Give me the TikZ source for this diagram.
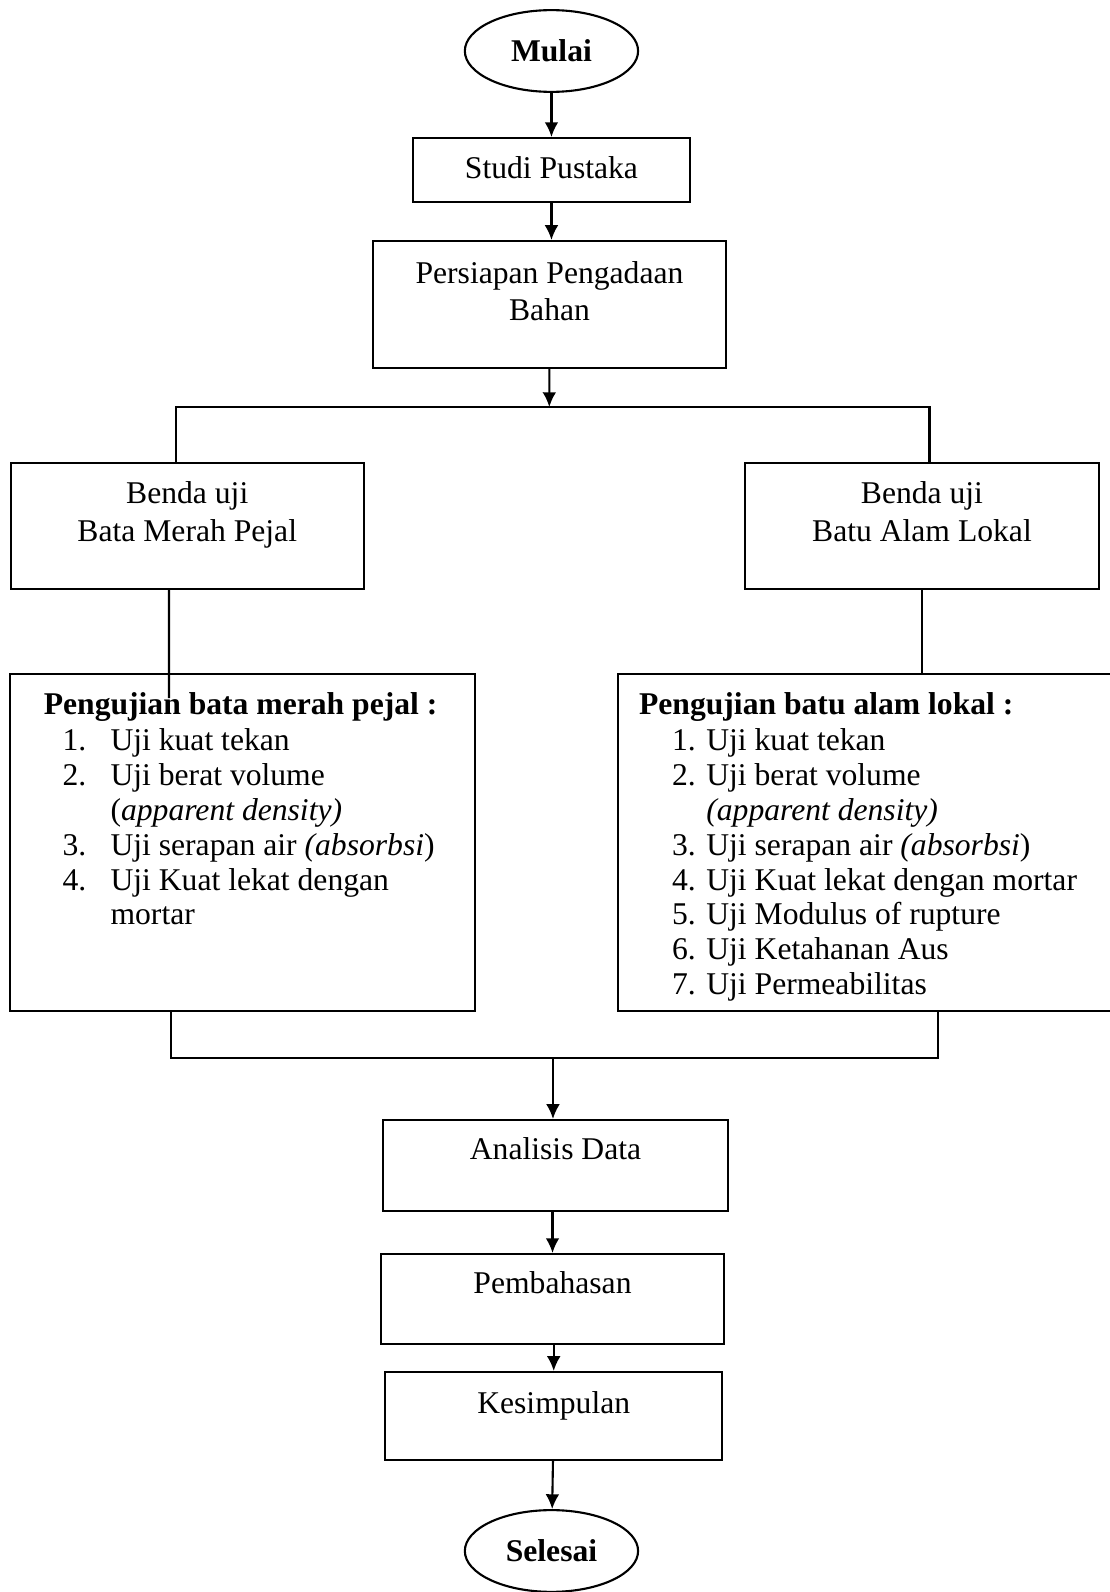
\documentclass[tikz,border=0pt]{standalone}
\usepackage{fontspec}
\setmainfont{Liberation Serif}
\usetikzlibrary{shapes.geometric,arrows.meta}
\tikzset{
  terminal/.style={draw, ellipse, inner sep=0pt, minimum width=2.31cm, minimum height=1.09cm,
    font=\fontsize{12}{13.2}\selectfont\bfseries},
  proses/.style={draw, anchor=north, inner xsep=0pt, inner ysep=0pt, align=flush center,
    font=\fontsize{12}{13.2}\selectfont},
  daftar/.style={draw, anchor=north west, inner xsep=0.3cm, inner ysep=0pt, align=flush left,
    font=\fontsize{12}{13.2}\selectfont, text height=0.533cm, text depth=3.96cm},
}
\newcommand{\proses}[6]{%
 \node[proses, text width=#3, text height=#4, text depth=#5] (#1) at (#2) {#6};%
}
\newcommand{\butir}[2]{\hspace*{0.4cm}\makebox[0.64cm][l]{#1}#2}

\begin{document}
\begin{tikzpicture}[>={Latex[length=5.6pt,width=5.2pt]}, line width=0.8pt]
  \useasboundingbox (0,0) rectangle (14.8,-21.227);
  \node[terminal] (mulai) at (7.353,-0.68) {Mulai};
  \proses{studi}{7.353,-1.827}{3.693cm}{0.533cm}{0.32cm}{Studi Pustaka};
  \proses{persiapan}{7.327,-3.2}{4.707cm}{0.56cm}{1.133cm}{Persiapan Pengadaan\\[1pt]Bahan};
  \coordinate (cabang) at (7.324,-5.427);
  \proses{bendakiri}{2.497,-6.16}{4.712cm}{0.533cm}{1.147cm}{Benda uji\\[1.5pt]Bata Merah Pejal};
  \proses{bendakanan}{12.293,-6.16}{4.716cm}{0.533cm}{1.147cm}{Benda uji\\[1.5pt]Batu Alam Lokal};
  \node[daftar, text width=5.6cm] (ujikiri) at (0.12,-8.973) {%
    \hspace*{0.15cm}\textbf{Pengujian bata merah pejal :}\\[0.8pt]
    \butir{1.}{Uji kuat tekan}\\
    \butir{2.}{Uji berat volume}\\
    \hspace*{1.04cm}(\textit{apparent density)}\\
    \butir{3.}{Uji serapan air \textit{(absorbsi})}\\
    \butir{4.}{Uji Kuat lekat dengan}\\
    \hspace*{1.04cm}mortar};
  \node[daftar, inner xsep=0.28cm, text width=6.08cm] (ujikanan) at (8.227,-8.973) {%
    \textbf{Pengujian batu alam lokal :}\\[0.8pt]
    \hspace*{0.44cm}1. Uji kuat tekan\\
    \hspace*{0.44cm}2. Uji berat volume\\
    \hspace*{0.44cm}\phantom{2. }\textit{(apparent density)}\\
    \hspace*{0.44cm}3. Uji serapan air \textit{(absorbsi})\\
    \hspace*{0.44cm}4. Uji Kuat lekat dengan mortar\\
    \hspace*{0.44cm}5. Uji Modulus of rupture\\
    \hspace*{0.44cm}6. Uji Ketahanan Aus\\
    \hspace*{0.44cm}7. Uji Permeabilitas};
  \coordinate (ujung) at (2.253,-9.307);
  \coordinate (gabung) at (7.373,-14.107);
  \proses{analisis}{7.407,-14.92}{4.591cm}{0.52cm}{0.693cm}{Analisis Data};
  \proses{bahas}{7.367,-16.707}{4.573cm}{0.52cm}{0.68cm}{Pembahasan};
  \proses{simpul}{7.383,-18.28}{4.497cm}{0.547cm}{0.627cm}{Kesimpulan};
  \node[terminal] (selesai) at (7.353,-20.68) {Selesai};
  % alur utama
  \draw[->] (mulai) -- (studi);
  \draw[->] (studi) -- (studi |- persiapan.north);
  \draw[->] (persiapan) -- (cabang);
  \draw ([xshift=-0.156cm]bendakiri.north) |- (cabang) -| ([xshift=0.1cm]bendakanan.north);
  \draw ([xshift=-0.244cm]bendakiri.south) -- (ujung);
  \draw (bendakanan) -- (bendakanan |- ujikanan.north);
  \draw ([xshift=-0.953cm]ujikiri.south) |- (gabung) -| ([xshift=0.946cm]ujikanan.south);
  \draw[->] (gabung) -- (gabung |- analisis.north);
  \draw[->] (bahas |- analisis.south) -- (bahas);
  \draw[->] (simpul |- bahas.south) -- (simpul);
  \draw[->] (simpul) -- (selesai);
\end{tikzpicture}
\end{document}
